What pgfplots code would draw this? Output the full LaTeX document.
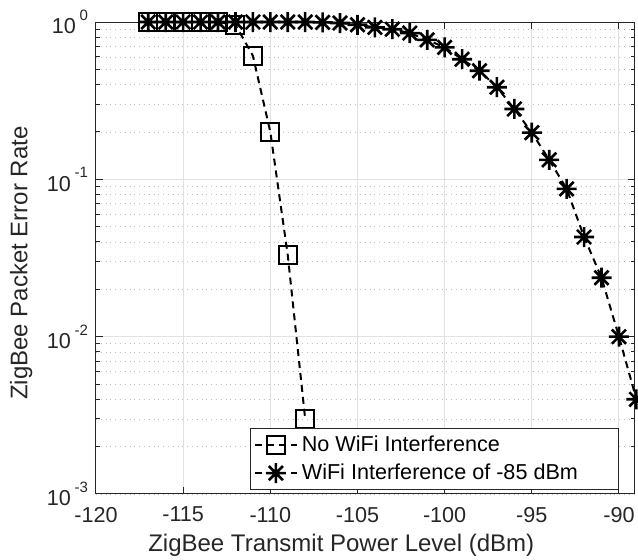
\documentclass[border=0pt]{standalone}
\usepackage{pgfplots}
\pgfplotsset{compat=1.18}
\usepackage{fontspec}
\setmainfont{Liberation Sans}
\definecolor{mg}{RGB}{38,38,38}
\definecolor{gridmaj}{RGB}{225,225,225}
\definecolor{gridmin}{RGB}{190,190,190}
\newcommand{\tp}[1]{10\,\raisebox{0.62em}{\fontsize{7.5}{8}\selectfont #1}}
\pgfdeclareplotmark{mstar}{%
  \pgfpathmoveto{\pgfqpoint{-\pgfplotmarksize}{0pt}}\pgfpathlineto{\pgfqpoint{\pgfplotmarksize}{0pt}}%
  \pgfpathmoveto{\pgfqpoint{0pt}{-\pgfplotmarksize}}\pgfpathlineto{\pgfqpoint{0pt}{\pgfplotmarksize}}%
  \pgfpathmoveto{\pgfqpoint{-0.7071\pgfplotmarksize}{-0.7071\pgfplotmarksize}}\pgfpathlineto{\pgfqpoint{0.7071\pgfplotmarksize}{0.7071\pgfplotmarksize}}%
  \pgfpathmoveto{\pgfqpoint{-0.7071\pgfplotmarksize}{0.7071\pgfplotmarksize}}\pgfpathlineto{\pgfqpoint{0.7071\pgfplotmarksize}{-0.7071\pgfplotmarksize}}%
  \pgfusepathqstroke}
\begin{document}
\begin{tikzpicture}
\begin{semilogyaxis}[
  scale only axis, width=269.5pt, height=236pt,
  xmin=-120, xmax=-89.08, ymin=1e-3, ymax=1,
  xtick={-120,-115,-110,-105,-100,-95,-90},
  xticklabels={-120,-115,-110,-105,-100,-95,-90},
  ytick={1e-3,1e-2,1e-1,1},
  yticklabels={\tp{-3},\tp{-2},\tp{-1},\tp{0}},
  tick align=inside,
  major tick length=3.5pt, minor tick length=2pt,
  axis line style={mg, line width=0.5pt},
  every tick/.style={mg, line width=0.5pt},
  tick label style={font=\fontsize{10.8}{12}\selectfont, text=mg},
  xticklabel style={yshift=-3pt},
  yticklabel style={xshift=-0.5pt},
  xmajorgrids, ymajorgrids, yminorgrids,
  major grid style={gridmaj, line width=0.5pt},
  minor grid style={gridmin, dotted, line width=0.4pt},
  xlabel={ZigBee Transmit Power Level (dBm)},
  ylabel={ZigBee Packet Error Rate},
  label style={font=\fontsize{12}{14}\selectfont, text=mg},
  xlabel style={at={(axis description cs:0.455,0)}, anchor=center, yshift=-25.5pt},
  ylabel style={at={(axis description cs:-0.139,0.489)}, anchor=center},
  clip=false,
  legend style={at={(0.971,0.0085)}, anchor=south east, draw=mg, line width=0.5pt,
    fill=white, font=\fontsize{10.8}{12}\selectfont, inner xsep=1.5pt, inner ysep=1.5pt, row sep=0.8pt},
  legend cell align=left,
  legend image code/.code={\draw[mark repeat=2,mark phase=2,#1] plot coordinates {(0pt,0pt) (10.5pt,0pt) (21pt,0pt)};},
]
\addplot[black, line width=1pt, dash pattern=on 3.5pt off 2.5pt, mark=square, mark size=4.5pt,
  mark options={solid, line width=1pt}]
  coordinates {(-117,1)(-116,1)(-115,1)(-114,1)(-113,1)(-112,0.96)(-111,0.61)(-110,0.2)(-109,0.033)(-108,0.003)};
\addlegendentry{\makebox[155pt][l]{No WiFi Interference}}
\addplot[black, line width=1pt, dash pattern=on 3.5pt off 2.5pt, mark=mstar, mark size=5pt,
  mark options={solid, line width=1.3pt}]
  coordinates {(-117,1)(-116,1)(-115,1)(-114,1)(-113,1)(-112,1)(-111,1)(-110,1)(-109,1)(-108,1)
  (-107,0.995)(-106,0.985)(-105,0.96)(-104,0.925)(-103,0.90)(-102,0.85)(-101,0.77)(-100,0.69)
  (-99,0.58)(-98,0.49)(-97,0.385)(-96,0.28)(-95,0.198)(-94,0.133)(-93,0.087)(-92,0.043)
  (-91,0.0237)(-90,0.0100)(-89,0.0040)};
\addlegendentry{\makebox[155pt][l]{WiFi Interference of -85 dBm}}
\end{semilogyaxis}
\pgfresetboundingbox
\path[use as bounding box] ([shift={(-48pt,-33pt)}]current axis.south west) rectangle ([shift={(1.5pt,11pt)}]current axis.north east);
\end{tikzpicture}
\end{document}
